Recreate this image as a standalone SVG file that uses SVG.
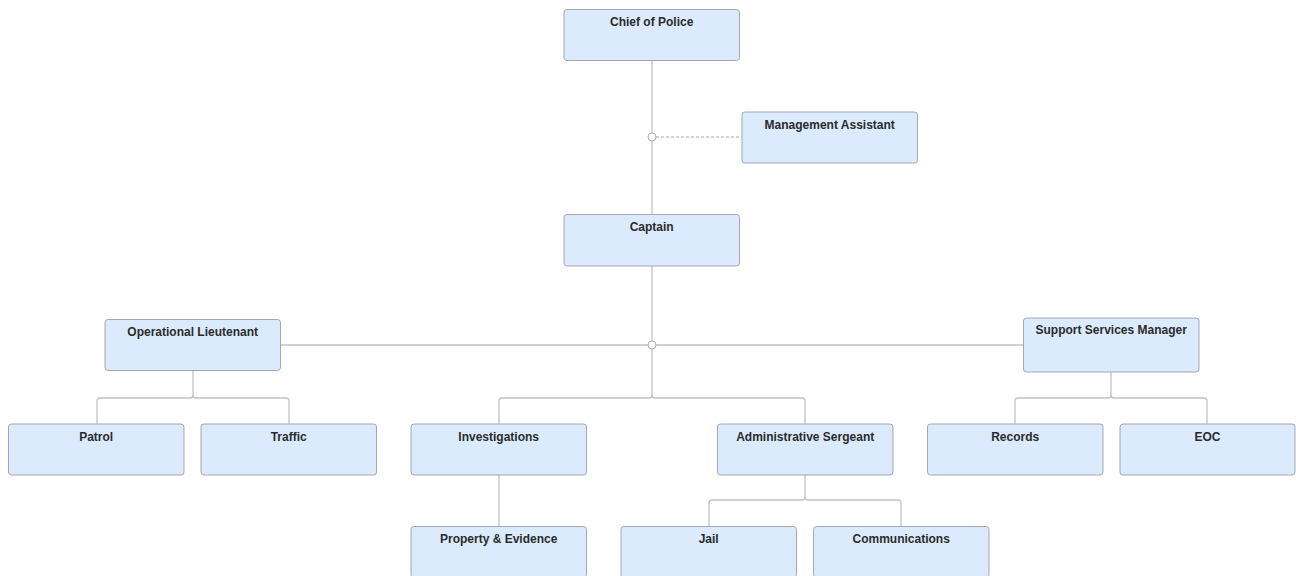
<svg xmlns="http://www.w3.org/2000/svg" width="1296" height="576" viewBox="0 0 1296 576">
<style>
.box{fill:#dbebfd;stroke:#a3a8ae;stroke-width:1;}
.lbl{font-family:"Liberation Sans",Arial,sans-serif;font-weight:bold;font-size:12px;fill:#2b2b2b;text-anchor:middle;}
.ln{fill:none;stroke:#c2c2c2;stroke-width:1.3;}
.dash{fill:none;stroke:#a8a8a8;stroke-width:1;stroke-dasharray:3 2;}
.jn{fill:#ffffff;stroke:#b0b0b0;stroke-width:1;}
</style>
<rect width="1296" height="576" fill="#ffffff"/>
<g id="connectors">
<path class="ln" d="M652 60.5 V133"/>
<path class="ln" d="M652 141 V214.5"/>
<path class="dash" d="M656 137 H742"/>
<path class="ln" d="M652 266 V341"/>
<path class="ln" d="M280.5 345 H648"/>
<path class="ln" d="M656 345 H1023.5"/>
<path class="ln" d="M652 349 V395 Q652 398 649 398 H502 Q499 398 499 401 V424"/>
<path class="ln" d="M652 395 Q652 398 655 398 H802 Q805 398 805 401 V424"/>
<path class="ln" d="M193 370.5 V395 Q193 398 190 398 H100 Q97 398 97 401 V424"/>
<path class="ln" d="M193 395 Q193 398 196 398 H286 Q289 398 289 401 V424"/>
<path class="ln" d="M1111 372 V395 Q1111 398 1108 398 H1018 Q1015 398 1015 401 V424"/>
<path class="ln" d="M1111 395 Q1111 398 1114 398 H1204 Q1207 398 1207 401 V424"/>
<path class="ln" d="M499 475 V526"/>
<path class="ln" d="M805 475 V497 Q805 500 802 500 H712 Q709 500 709 503 V526"/>
<path class="ln" d="M805 497 Q805 500 808 500 H898 Q901 500 901 503 V526"/>
<circle class="jn" cx="652" cy="137" r="4"/>
<circle class="jn" cx="652" cy="345" r="4"/>
</g>
<g id="chief"><rect class="box" x="564" y="9.5" width="175.5" height="51" rx="3"/><text class="lbl" x="651.7" y="26">Chief of Police</text></g>
<g id="mgmt"><rect class="box" x="742" y="112" width="175.5" height="51" rx="3"/><text class="lbl" x="829.7" y="128.5">Management Assistant</text></g>
<g id="captain"><rect class="box" x="564" y="214.5" width="175.5" height="51.5" rx="3"/><text class="lbl" x="651.7" y="231">Captain</text></g>
<g id="oplt"><rect class="box" x="105" y="319.5" width="175.5" height="51" rx="3"/><text class="lbl" x="192.7" y="336">Operational Lieutenant</text></g>
<g id="ssm"><rect class="box" x="1023.5" y="318" width="175.5" height="54" rx="3"/><text class="lbl" x="1111.2" y="334">Support Services Manager</text></g>
<g id="patrol"><rect class="box" x="8.5" y="424" width="175.5" height="51" rx="3"/><text class="lbl" x="96.2" y="440.5">Patrol</text></g>
<g id="traffic"><rect class="box" x="201" y="424" width="175.5" height="51" rx="3"/><text class="lbl" x="288.7" y="440.5">Traffic</text></g>
<g id="investigations"><rect class="box" x="411" y="424" width="175.5" height="51" rx="3"/><text class="lbl" x="498.7" y="440.5">Investigations</text></g>
<g id="adminsgt"><rect class="box" x="717.5" y="424" width="175.5" height="51" rx="3"/><text class="lbl" x="805.2" y="440.5">Administrative Sergeant</text></g>
<g id="records"><rect class="box" x="927.5" y="424" width="175.5" height="51" rx="3"/><text class="lbl" x="1015.2" y="440.5">Records</text></g>
<g id="eoc"><rect class="box" x="1120" y="424" width="175" height="51" rx="3"/><text class="lbl" x="1207.5" y="440.5">EOC</text></g>
<g id="property"><rect class="box" x="411" y="526.5" width="175.5" height="51" rx="3"/><text class="lbl" x="498.7" y="543">Property &amp; Evidence</text></g>
<g id="jail"><rect class="box" x="621" y="526.5" width="175.5" height="51" rx="3"/><text class="lbl" x="708.7" y="543">Jail</text></g>
<g id="comms"><rect class="box" x="813.5" y="526.5" width="175.5" height="51" rx="3"/><text class="lbl" x="901.2" y="543">Communications</text></g>
</svg>
